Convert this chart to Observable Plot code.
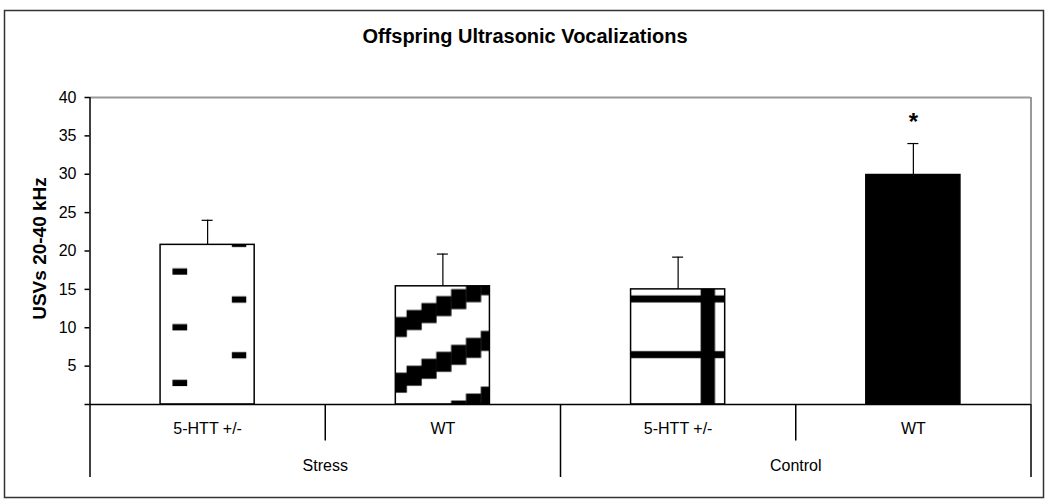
<!DOCTYPE html>
<html>
<head>
<meta charset="utf-8">
<script src="https://cdn.jsdelivr.net/npm/d3@7"></script>
<script src="https://cdn.jsdelivr.net/npm/@observablehq/plot@0.6"></script>
<style>
  html, body { margin: 0; padding: 0; background: #fff; }
  svg { display: block; }
</style>
</head>
<body>
<div id="chart"></div>
<script>
// ---- data ----
const groups = ["Stress", "Stress", "Control", "Control"];
const genotypes = ["5-HTT +/-", "WT", "5-HTT +/-", "WT"];
const means = [20.8, 15.4, 15.0, 29.9];
const sems = [3.2, 4.2, 4.2, 4.1];
const significance = ["", "", "", "*"];
const yTicks = [0, 5, 10, 15, 20, 25, 30, 35, 40];
const groupNames = ["Stress", "Control"];
const titleText = "Offspring Ultrasonic Vocalizations";
const yLabelText = "USVs 20-40 kHz";

// ---- styles ----
const barFills = ["url(#pat-dash)", "url(#pat-stair)", "url(#pat-grid)", "black"];
const FONT = "'Liberation Sans', Arial, Helvetica, sans-serif";
const BAR_PAD = 0.3;

const rows = genotypes.map((g, i) => ({
  i, group: groups[i], genotype: g, mean: means[i], upper: means[i] + sems[i], sig: significance[i]
}));
const groupRows = groupNames.map(g => {
  const idx = rows.filter(r => r.group === g).map(r => r.i);
  return {group: g, center: d3.mean(idx) + 0.5, start: d3.min(idx)};
});
const groupBounds = groupRows.map(d => d.start).filter(s => s > 0).concat([rows.length]);
const subBounds = rows.filter(r => r.i > 0 && groups[r.i - 1] === r.group).map(r => r.i);

const plot = Plot.plot({
  width: 1050,
  height: 503,
  marginLeft: 89.5,
  marginRight: 19.5,
  marginTop: 97,
  marginBottom: 99,
  style: {fontFamily: FONT, fontSize: "16px", color: "black", background: "white", overflow: "visible"},
  x: {domain: [0, rows.length], axis: null},
  y: {domain: [0, 40], axis: null, label: null},
  marks: [
    // outer border
    Plot.frame({stroke: "#333", strokeWidth: 1.5, insetLeft: -85.5, insetTop: -87, insetRight: -12.5, insetBottom: -93}),
    // plot area border (grey top + right)
    Plot.ruleY([40], {stroke: "#999", strokeWidth: 2}),
    Plot.ruleX([rows.length], {stroke: "#999", strokeWidth: 2}),
    // bars
    Plot.rect(rows, {
      x1: d => d.i + BAR_PAD, x2: d => d.i + 1 - BAR_PAD,
      y1: () => 0, y2: "mean",
      fill: d => barFills[d.i], stroke: "black", strokeWidth: 1.5
    }),
    // error bars
    Plot.ruleX(rows, {x: d => d.i + 0.5, y1: "mean", y2: "upper", stroke: "black", strokeWidth: 1.2}),
    Plot.ruleY(rows, {y: "upper", x1: d => d.i + 0.5, x2: d => d.i + 0.5, insetLeft: -5.5, insetRight: -5.5, stroke: "black", strokeWidth: 1.2}),
    Plot.text(rows.filter(d => d.sig), {x: d => d.i + 0.5, y: "upper", text: "sig", dy: -21, fontSize: 24, fontWeight: "bold", lineAnchor: "middle"}),
    // axes
    Plot.ruleY([0], {stroke: "black", strokeWidth: 1.5}),
    Plot.ruleX([0], {stroke: "black", strokeWidth: 1.5, insetBottom: -73}),
    Plot.axisY({ticks: yTicks, tickFormat: d => d === 0 ? "" : String(d), tickSize: 5, tickPadding: 8.5, fontSize: 16, strokeWidth: 1.5, label: null}),
    // category table
    Plot.ruleX(groupBounds, {y1: () => 0, y2: () => 0, insetBottom: -73, stroke: "black", strokeWidth: 1.5}),
    Plot.ruleX(subBounds, {y1: () => 0, y2: () => 0, insetBottom: -36.5, stroke: "black", strokeWidth: 1.5}),
    Plot.text(rows, {x: d => d.i + 0.5, y: () => 0, text: "genotype", lineAnchor: "top", dy: 18.2, fontSize: 16}),
    Plot.text(groupRows, {x: "center", y: () => 0, text: "group", lineAnchor: "top", dy: 55.6, fontSize: 16}),
    // titles
    Plot.text([titleText], {text: d => d, frameAnchor: "top", textAnchor: "middle", dx: -35.5, dy: -61, fontSize: 20, fontWeight: "bold", lineAnchor: "middle"}),
    Plot.text([yLabelText], {text: d => d, frameAnchor: "left", textAnchor: "middle", rotate: -90, dx: -50.5, dy: -2.5, fontSize: 19, fontWeight: "bold", lineAnchor: "middle"})
  ]
});

document.getElementById("chart").appendChild(plot);

// ---- fill patterns, anchored to the bars through the plot's scales ----
const sx = plot.scale("x"), sy = plot.scale("y");
const y0 = sy.apply(0);
const P = 55.7; // vertical period of the patterns
const defs = d3.select(plot).insert("defs", ":first-child");

function pattern(id, x, w) {
  const p = defs.append("pattern").attr("id", id).attr("patternUnits", "userSpaceOnUse")
    .attr("x", x).attr("y", y0).attr("width", w).attr("height", P);
  p.append("rect").attr("width", w).attr("height", P).attr("fill", "white");
  return p;
}
// dashes
{
  const p = pattern("pat-dash", sx.apply(0 + BAR_PAD), 120);
  p.append("rect").attr("x", 12.4).attr("y", 31.5).attr("width", 14.7).attr("height", 6.3).attr("fill", "black");
  p.append("rect").attr("x", 71.8).attr("y", 3.8).attr("width", 14.4).attr("height", 6.3).attr("fill", "black");
}
// stair-step diagonal stripes
{
  const sw = 14.85, rise = P / 8;
  const p = pattern("pat-stair", sx.apply(1 + BAR_PAD) - 3.6, sw * 8);
  for (let k = 0; k < 8; k++) {
    const t = 24.4 - rise * k;
    for (const off of [-P, 0, P]) {
      p.append("rect").attr("x", sw * k).attr("y", t + off).attr("width", sw + 0.3).attr("height", 20).attr("fill", "black");
    }
  }
}
// grid (horizontal lines + one vertical band)
{
  const p = pattern("pat-grid", sx.apply(2 + BAR_PAD), 120);
  p.append("rect").attr("x", 0).attr("y", 2.85).attr("width", 120).attr("height", 7).attr("fill", "black");
  p.append("rect").attr("x", 70.1).attr("y", 0).attr("width", 14.3).attr("height", P).attr("fill", "black");
}
</script>
</body>
</html>
